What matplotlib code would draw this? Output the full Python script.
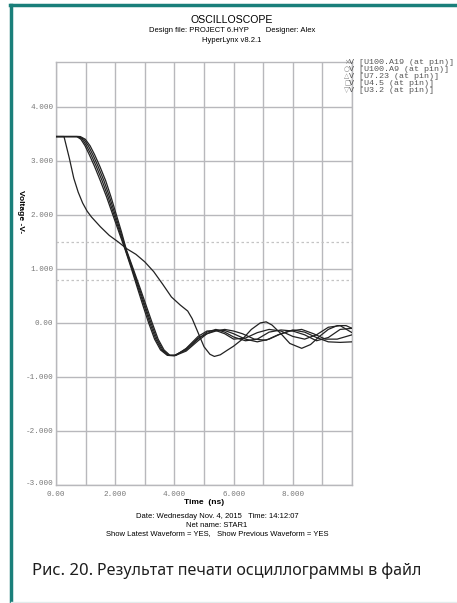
import matplotlib
matplotlib.use('Agg')
import matplotlib.pyplot as plt
from matplotlib.lines import Line2D
from matplotlib.transforms import ScaledTranslation

# Signal data (time in ns, voltage in V)
t_a = [0, 0.27, 0.45, 0.6, 0.75, 0.9, 1.05, 1.2, 1.5, 1.8, 2.1, 2.4, 2.7, 3.0,
       3.3, 3.6, 3.9, 4.2, 4.45, 4.6, 4.8, 5.0, 5.2, 5.35, 5.55, 5.8, 6.0, 6.3,
       6.6, 6.9, 7.1, 7.3, 7.6, 7.9, 8.3, 8.6, 8.9, 9.2, 9.5, 9.8, 10.0]
v_a = [3.45, 3.45, 3.05, 2.68, 2.42, 2.22, 2.07, 1.96, 1.78, 1.62, 1.50, 1.37,
       1.27, 1.13, 0.95, 0.72, 0.48, 0.33, 0.22, 0.08, -0.18, -0.44, -0.58,
       -0.62, -0.59, -0.5, -0.43, -0.3, -0.12, 0.0, 0.02, -0.04, -0.2, -0.38,
       -0.47, -0.4, -0.25, -0.12, -0.05, -0.05, -0.1]

t_b = [0, 0.70, 0.84, 0.98, 1.12, 1.30, 1.50, 1.71, 1.92, 2.12, 2.34, 2.55, 2.76,
       2.95, 3.13, 3.33, 3.53, 3.76, 4.0, 4.4, 4.8, 5.1, 5.4, 5.7, 6.0, 6.4, 6.8,
       7.2, 7.6, 8.0, 8.4, 8.8, 9.2, 9.6, 10.0]
v_b = [3.45, 3.45, 3.40, 3.28, 3.12, 2.90, 2.63, 2.33, 2.00, 1.69, 1.35, 1.00,
       0.63, 0.30, 0.0, -0.30, -0.50, -0.60, -0.61, -0.52, -0.33, -0.20, -0.13,
       -0.14, -0.20, -0.30, -0.35, -0.30, -0.20, -0.13, -0.17, -0.27, -0.35,
       -0.36, -0.35]

t_c = [0, 0.74, 0.89, 1.03, 1.18, 1.36, 1.56, 1.76, 1.96, 2.15, 2.35, 2.57, 2.79,
       2.99, 3.17, 3.37, 3.57, 3.79, 4.0, 4.4, 4.8, 5.1, 5.4, 5.7, 6.0, 6.4, 6.8,
       7.2, 7.6, 8.0, 8.4, 8.8, 9.2, 9.6, 10.0]
v_c = [3.45, 3.45, 3.40, 3.28, 3.12, 2.90, 2.63, 2.33, 2.00, 1.69, 1.35, 1.00,
       0.63, 0.30, 0.0, -0.30, -0.50, -0.60, -0.60, -0.50, -0.30, -0.17, -0.12,
       -0.17, -0.26, -0.33, -0.30, -0.17, -0.13, -0.15, -0.22, -0.33, -0.27,
       -0.12, -0.10]

t_d = [0, 0.78, 0.94, 1.09, 1.24, 1.42, 1.62, 1.81, 2.00, 2.18, 2.37, 2.59, 2.82,
       3.02, 3.21, 3.41, 3.61, 3.82, 4.02, 4.4, 4.8, 5.1, 5.4, 5.7, 6.0, 6.3, 6.7,
       7.1, 7.5, 7.9, 8.3, 8.7, 9.1, 9.5, 10.0]
v_d = [3.45, 3.45, 3.40, 3.28, 3.12, 2.90, 2.63, 2.33, 2.00, 1.69, 1.35, 1.00,
       0.63, 0.30, 0.0, -0.30, -0.50, -0.60, -0.60, -0.48, -0.28, -0.20, -0.15,
       -0.12, -0.15, -0.20, -0.30, -0.32, -0.22, -0.15, -0.12, -0.20, -0.30,
       -0.30, -0.22]

t_e = [0, 0.82, 0.99, 1.15, 1.30, 1.48, 1.68, 1.86, 2.04, 2.21, 2.38, 2.61, 2.85,
       3.06, 3.25, 3.45, 3.65, 3.85, 4.05, 4.4, 4.8, 5.1, 5.4, 5.7, 6.0, 6.4, 6.8,
       7.2, 7.6, 8.0, 8.4, 8.8, 9.2, 9.6, 10.0]
v_e = [3.45, 3.45, 3.40, 3.28, 3.12, 2.90, 2.63, 2.33, 2.00, 1.69, 1.35, 1.00,
       0.63, 0.30, 0.0, -0.30, -0.50, -0.60, -0.60, -0.47, -0.25, -0.15, -0.14,
       -0.20, -0.30, -0.28, -0.18, -0.12, -0.15, -0.25, -0.30, -0.22, -0.08,
       -0.05, -0.18]

signals = [(t_a, v_a), (t_b, v_b), (t_c, v_c), (t_d, v_d), (t_e, v_e)]
legend_marks = ['\u00d7', '\u25cb', '\u25b3', '\u25a1', '\u25bd']
legend_names = ['V [U100.A19 (at pin)]', 'V [U100.A9 (at pin)]',
                'V [U7.23 (at pin)]', 'V [U4.5 (at pin)]', 'V [U3.2 (at pin)]']
thresholds = [1.5, 0.8]
y_ticks = [4, 3, 2, 1, 0, -1, -2, -3]
y_labels = ['4.000', '3.000', '2.000', '1.000', '0.00', '-1.000', '-2.000', '-3.000']
x_ticks = [0, 2, 4, 6, 8]
x_labels = ['0.00', '2.000', '4.000', '6.000', '8.000']

W, H = 457, 603
fig = plt.figure(figsize=(W / 100, H / 100), dpi=100)
fig.patch.set_facecolor('white')

# teal frame top + left, faint line at bottom
teal = '#1a7f7a'
fig.add_artist(Line2D([10 / W, 1], [1 - 5 / H, 1 - 5 / H], color=teal, lw=2.5))
fig.add_artist(Line2D([11 / W, 11 / W], [0, 1 - 5 / H], color=teal, lw=2.5))
fig.add_artist(Line2D([11 / W, 1], [1.5 / H, 1.5 / H], color='#e3ecec', lw=1))

ax = fig.add_axes([56 / W, 1 - 485 / H, (352 - 56) / W, (485 - 62) / H])
grid_c = '#b8b8bc'
mono = ['Liberation Mono', 'DejaVu Sans']

for x in range(0, 11):
    ax.axvline(x, color=grid_c, lw=1.0, zorder=1)
for y in range(-3, 5):
    ax.axhline(y, color=grid_c, lw=1.0, zorder=1)
for y in thresholds:
    ax.axhline(y, color='#c4c4c4', lw=0.9, ls=(0, (2, 2)), zorder=1)

for t, v in signals:
    ax.plot(t, v, color='#222222', lw=0.9, zorder=3)

ax.set_xlim(0, 10)
ax.set_ylim(-3, 4.83)
for s in ax.spines.values():
    s.set_color(grid_c)
    s.set_linewidth(1.0)
ax.set_xticks(x_ticks)
ax.set_xticklabels(x_labels, family=mono, fontsize=5.5, color='#777777')
ax.set_yticks(y_ticks)
ax.set_yticklabels(y_labels, family=mono, fontsize=5.5, color='#777777')
ax.tick_params(axis='both', length=0, colors=grid_c)
ax.tick_params(axis='y', pad=2)
ax.tick_params(axis='x', pad=4)
for lab in ax.get_xticklabels() + ax.get_yticklabels():
    lab.set_color('#777777')
# nudge -3.000 up a touch, as on the print
last = ax.get_yticklabels()[-1]
last.set_transform(last.get_transform() + ScaledTranslation(0, 1.5 / 72, fig.dpi_scale_trans))

ax.set_xlabel('Time  (ns)', fontsize=6, fontweight='bold', family='Liberation Sans',
              labelpad=1)
fig.text(20 / W, 1 - 212 / H, 'Voltage -V-', rotation=270, ha='center', va='center',
         fontsize=6, fontweight='bold', family='Liberation Sans')

# header
fig.text(232 / W, 1 - 20 / H, 'OSCILLOSCOPE', ha='center', va='center',
         fontsize=7.6, family='Liberation Sans')
fig.text(232 / W, 1 - 31 / H, 'Design file: PROJECT 6.HYP        Designer: Alex',
         ha='center', va='center', fontsize=5.5, family='Liberation Sans')
fig.text(232 / W, 1 - 41 / H, 'HyperLynx v8.2.1', ha='center', va='center',
         fontsize=5.5, family='Liberation Sans')

# legend
for i, (m, name) in enumerate(zip(legend_marks, legend_names)):
    yy = 1 - (62.5 + i * 7) / H
    fig.text(344 / W, yy, m, ha='left', va='center', fontsize=4.8,
             color='#888888', family='DejaVu Sans')
    fig.text(349 / W, yy, name, ha='left', va='center', fontsize=6,
             color='#555555', family=mono)

# footer
fig.text(217 / W, 1 - 517 / H, 'Date: Wednesday Nov. 4, 2015   Time: 14:12:07',
         ha='center', va='center', fontsize=5.5, family='Liberation Sans')
fig.text(217 / W, 1 - 525.5 / H, 'Net name: STAR1', ha='center', va='center',
         fontsize=5.5, family='Liberation Sans')
fig.text(217 / W, 1 - 534 / H,
         'Show Latest Waveform = YES,   Show Previous Waveform = YES',
         ha='center', va='center', fontsize=5.5, family='Liberation Sans')

# caption
cap1 = fig.text(32 / W, 1 - 571 / H, 'Рис. 20.', ha='left', va='center',
                fontsize=12, fontweight='bold', family='Noto Sans', color='#1e1e1e')
fig.canvas.draw()
bb = cap1.get_window_extent()
fig.text((bb.x1 + 4) / W, 1 - 571 / H, 'Результат печати осциллограммы в файл',
         ha='left', va='center', fontsize=11.5, family='Noto Sans', color='#1e1e1e')

fig.savefig('out.png', dpi=100, facecolor='white')
